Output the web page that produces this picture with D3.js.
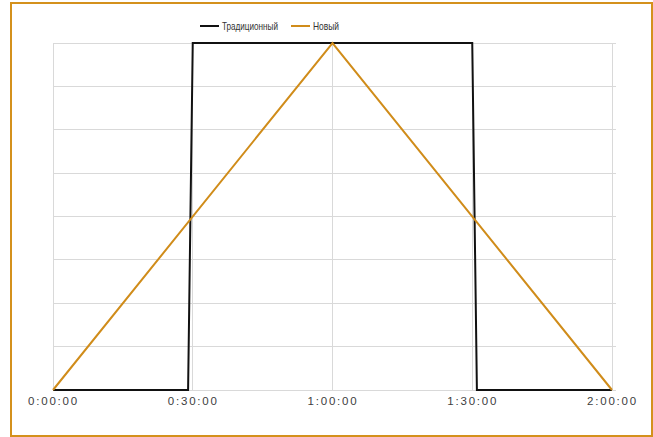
<!DOCTYPE html>
<html><head><meta charset="utf-8">
<script src="https://cdn.jsdelivr.net/npm/d3@7"></script>
<style>body{margin:0;background:#fff}svg{display:block}text{font-family:"Liberation Sans",Arial,sans-serif}</style>
</head><body>
<svg id="c" width="653" height="437"></svg>
<script>
// minutes since 0:00:00
const traditionalTimes = [0, 29, 30, 90, 91, 120];
const traditionalValues = [0, 0, 8, 8, 0, 0];
const newTimes = [0, 60, 120];
const newValues = [0, 8, 0];
const tickMinutes = [0, 30, 60, 90, 120];
const tickLabels = ["0:00:00", "0:30:00", "1:00:00", "1:30:00", "2:00:00"];
const seriesNames = ["Традиционный", "Новый"];
const seriesColors = ["#111111", "#d08c1a"];

const svg = d3.select("#c");
svg.append("rect").attr("x", 11).attr("y", 3).attr("width", 641).attr("height", 433)
  .attr("fill", "#fff").attr("stroke", "#d4911c").attr("stroke-width", 2);

const x = d3.scaleLinear().domain([0, 120]).range([53, 612]);
const y = d3.scaleLinear().domain([0, 8]).range([390, 43]);

const g = svg.append("g");
g.selectAll(".hg").data(d3.range(0, 9)).join("line")
  .attr("x1", x(0)).attr("x2", x(120) + 4)
  .attr("y1", d => y(d)).attr("y2", d => y(d))
  .attr("stroke", "#d9d9d9").attr("stroke-width", 1).attr("shape-rendering", "crispEdges");
g.selectAll(".vg").data(tickMinutes).join("line")
  .attr("x1", d => x(d)).attr("x2", d => x(d))
  .attr("y1", y(8)).attr("y2", y(0))
  .attr("stroke", "#d9d9d9").attr("stroke-width", 1).attr("shape-rendering", "crispEdges");

const xAxis = d3.axisBottom(x).tickValues(tickMinutes).tickSize(0).tickFormat((d, i) => tickLabels[i]);
const ax = svg.append("g").attr("transform", `translate(0,${y(0)})`).call(xAxis);
ax.select(".domain").remove();
ax.selectAll("text").attr("dy", 0).attr("y", 15).attr("font-size", 11.5)
  .attr("fill", "#404040").style("letter-spacing", "1.8px")
  .attr("font-family", "'Liberation Sans',Arial,sans-serif");

const line = d3.line().x(d => x(d[0])).y(d => y(d[1]));
const trad = traditionalTimes.map((t, i) => [t, traditionalValues[i]]);
const nw = newTimes.map((t, i) => [t, newValues[i]]);
svg.append("path").datum(trad).attr("d", line).attr("fill", "none")
  .attr("stroke", seriesColors[0]).attr("stroke-width", 2).attr("stroke-linejoin", "miter");
svg.append("path").datum(nw).attr("d", line).attr("fill", "none")
  .attr("stroke", seriesColors[1]).attr("stroke-width", 2);

const leg = svg.append("g").attr("transform", "translate(0,26)");
const legX = [200, 291];
const legW = [56, 26];
seriesNames.forEach((n, i) => {
  leg.append("line").attr("x1", legX[i]).attr("x2", legX[i] + 19).attr("y1", 0).attr("y2", 0)
    .attr("stroke", seriesColors[i]).attr("stroke-width", 2);
  leg.append("text").attr("x", legX[i] + 22).attr("y", 4).attr("font-size", 10.5)
    .attr("textLength", legW[i]).attr("lengthAdjust", "spacingAndGlyphs")
    .attr("fill", "#333").text(n);
});
</script>
</body></html>
